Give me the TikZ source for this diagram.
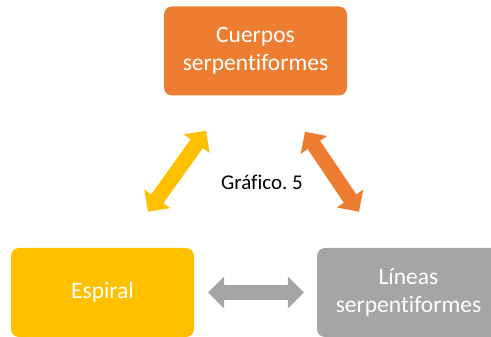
\documentclass[tikz,border=0pt]{standalone}
\usepackage{fontspec}
\setmainfont{Carlito}[Ligatures=NoCommon]
\usetikzlibrary{arrows.meta}

\definecolor{naranja}{HTML}{ED7D31}
\definecolor{amarillo}{HTML}{FFC000}
\definecolor{gris}{HTML}{A5A5A5}

\tikzset{
    caja/.style={rounded corners=8pt, minimum width=183pt, minimum height=89pt,
        inner sep=0pt, align=center, text=white,
        font=\fontsize{23.5}{28.5}\selectfont},
    flecha/.style={line width=15pt, {Triangle[width=31pt,length=16pt]}-{Triangle[width=31pt,length=16pt]}}
}

\begin{document}
\begin{tikzpicture}[x=1pt, y=-1pt]
            \useasboundingbox (0, 0) rectangle (491, 337);

            \coordinate (P1) at (255.5, 51);
            \coordinate (P2) at (102.5, 292.5);
            \coordinate (P3) at (408.5, 292.5);

            \node[caja, fill=naranja] (cuerpos) at (P1) {Cuerpos\\serpentiformes};
            \node[caja, fill=amarillo] (espiral) at (P2) {Espiral};
            \node[caja, fill=gris] (lineas) at (P3) {Líneas\\serpentiformes};

            \draw[flecha, amarillo] ([shift={(45.5pt, 36pt)}]espiral.north) -- ([shift={(-49.5pt, -35pt)}]cuerpos.south);
            \draw[flecha, naranja] ([shift={(49.5pt, -36pt)}]cuerpos.south) -- ([shift={(-49.5pt, 36pt)}]lineas.north);
            \draw[flecha, gris] ([xshift=14pt]espiral.east) -- ([xshift=-13pt]lineas.west);

            \node[font=\fontsize{21}{25}\selectfont] (grafico) at (262, 182) {Gráfico.\ 5};
        \end{tikzpicture}
\end{document}
